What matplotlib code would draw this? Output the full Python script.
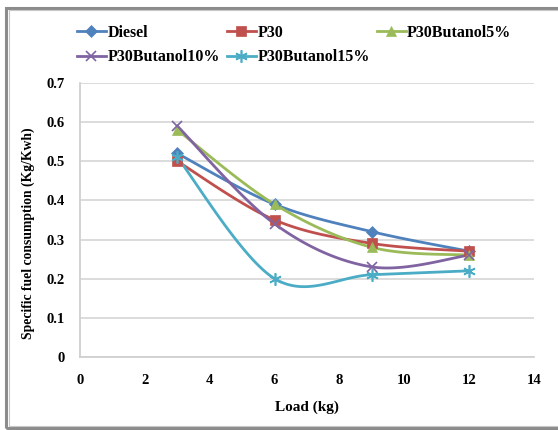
import matplotlib.pyplot as plt
from matplotlib.patches import Rectangle
import numpy as np

load = [3, 6, 9, 12]
diesel = [0.52, 0.39, 0.32, 0.27]
p30 = [0.50, 0.35, 0.29, 0.27]
p30_but5 = [0.58, 0.39, 0.28, 0.26]
p30_but10 = [0.59, 0.34, 0.23, 0.26]
p30_but15 = [0.51, 0.20, 0.21, 0.22]

labels = ["Diesel", "P30", "P30Butanol5%", "P30Butanol10%", "P30Butanol15%"]
colors = ["#4F81BD", "#C0504D", "#9BBB59", "#8064A2", "#4BACC6"]
markers = ["D", "s", "^", "x", (6, 2, 0)]
msizes = [6, 7, 7, 7, 9]


def smooth(x, y, n=40):
    # Catmull-Rom style bezier, like spreadsheet "smoothed line"
    pts = np.column_stack([x, y]).astype(float)
    out = [pts[0]]
    for i in range(len(pts) - 1):
        p0 = pts[i - 1] if i > 0 else pts[i]
        p1, p2 = pts[i], pts[i + 1]
        p3 = pts[i + 2] if i + 2 < len(pts) else pts[i + 1]
        c1 = p1 + (p2 - p0) / 6
        c2 = p2 - (p3 - p1) / 6
        t = np.linspace(0, 1, n)[1:, None]
        seg = ((1 - t) ** 3) * p1 + 3 * ((1 - t) ** 2) * t * c1 \
            + 3 * (1 - t) * t ** 2 * c2 + t ** 3 * p2
        out.extend(seg)
    out = np.array(out)
    return out[:, 0], out[:, 1]


plt.rcParams["font.family"] = "Liberation Serif"
plt.rcParams["font.weight"] = "bold"

fig = plt.figure(figsize=(5.58, 4.30), dpi=100)
ax = fig.add_axes([0.1434, 0.170, 0.8136, 0.637])

series = [diesel, p30, p30_but5, p30_but10, p30_but15]
handles = []
for vals, lab, col, mk, ms in zip(series, labels, colors, markers, msizes):
    mew = 1.2 if mk in ("x", (6, 2, 0)) else 0.5
    sx, sy = smooth(load, vals)
    ax.plot(sx, sy, color=col, linewidth=2, zorder=3)
    ax.plot(load, vals, linestyle="none", marker=mk, color=col,
            markersize=ms, markeredgewidth=mew, zorder=4)
    h, = ax.plot([], [], color=col, linewidth=2, marker=mk, markersize=ms,
                 markeredgewidth=mew)
    handles.append(h)

ax.set_xlim(0, 14)
ax.set_ylim(0, 0.7)
ax.set_xticks(range(0, 15, 2))
ax.set_yticks(np.arange(0, 0.71, 0.1))
ax.set_yticklabels(["0", "0.1", "0.2", "0.3", "0.4", "0.5", "0.6", "0.7"])
ax.tick_params(axis="both", length=0, labelsize=10.5)
ax.tick_params(axis="x", pad=12)
ax.tick_params(axis="y", pad=11)
ax.grid(axis="y", color="#D9D9D9", linewidth=1.3)
ax.set_axisbelow(True)
for side in ("top", "right"):
    ax.spines[side].set_visible(False)
for side in ("left", "bottom"):
    ax.spines[side].set_color("#D0D0D0")
    ax.spines[side].set_linewidth(1.3)

ax.set_xlabel("Load (kg)", fontsize=11, fontweight="bold", labelpad=10)
ax.set_ylabel("Specific fuel consumption (Kg/Kwh)", fontsize=9.8,
              fontweight="bold")
ax.yaxis.set_label_coords(-0.1, 0.45)

order = [0, 3, 1, 4, 2]
fig.legend([handles[i] for i in order], [labels[i] for i in order],
           loc="upper left", bbox_to_anchor=(77 / 558, 1 - 25 / 430), ncol=3,
           frameon=False, fontsize=11.5, handlelength=1.8, handletextpad=0.1,
           columnspacing=0.45, labelspacing=0.53, borderpad=0, borderaxespad=0)

# chart frame
fig.patches.append(Rectangle((0.010, 0.005), 1.2, 0.976, transform=fig.transFigure,
                             fill=False, edgecolor="#8C8C8C", linewidth=2.2))
fig.patches.append(Rectangle((0.016, 0.009), 1.2, 0.968, transform=fig.transFigure,
                             fill=False, edgecolor="#C8C8C8", linewidth=0.8))

fig.savefig("out.png", dpi=100)
